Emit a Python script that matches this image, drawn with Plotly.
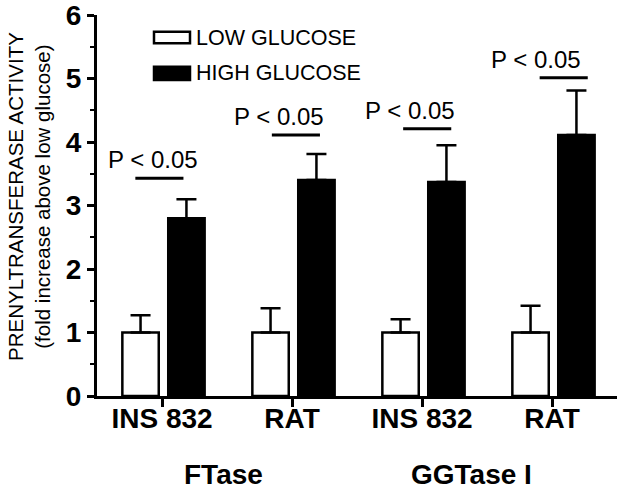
import plotly.graph_objects as go

# ---- data ----
categories = ["INS 832", "RAT", "INS 832", "RAT"]
groups = ["FTase", "GGTase I"]
low_glucose = [1.0, 1.0, 1.0, 1.0]
low_glucose_err = [0.27, 0.38, 0.21, 0.42]
high_glucose = [2.80, 3.40, 3.37, 4.11]
high_glucose_err = [0.30, 0.41, 0.58, 0.70]
sig_label = "P < 0.05"
sig_y = [3.43, 4.11, 4.21, 5.01]
y_ticks = [0, 1, 2, 3, 4, 5, 6]

FONT = "Liberation Sans, Arial, sans-serif"
idx = list(range(len(categories)))

fig = go.Figure()
fig.add_trace(go.Bar(
    x=idx, y=low_glucose, name="LOW GLUCOSE",
    width=0.28, offset=-0.305,
    marker=dict(color="white", line=dict(color="black", width=2.5)),
    error_y=dict(type="data", symmetric=False, array=low_glucose_err,
                 arrayminus=[0] * 4, color="black", thickness=2.5, width=10),
))
fig.add_trace(go.Bar(
    x=idx, y=high_glucose, name="HIGH GLUCOSE",
    width=0.28, offset=0.048,
    marker=dict(color="black", line=dict(color="black", width=2.5)),
    error_y=dict(type="data", symmetric=False, array=high_glucose_err,
                 arrayminus=[0] * 4, color="black", thickness=2.5, width=10),
))

# significance bars and labels
sig_center_shift = [-0.02, 1.03, 2.04, 3.09]
text_shift = [-0.05, -0.13, -0.13, -0.21]
for i, yv in enumerate(sig_y):
    c = sig_center_shift[i]
    fig.add_shape(type="line", xref="x", yref="y", x0=c - 0.185, x1=c + 0.185,
                  y0=yv, y1=yv, line=dict(color="black", width=3))
    fig.add_annotation(x=c + text_shift[i], y=yv + 0.29, xref="x", yref="y",
                       text=sig_label, showarrow=False,
                       font=dict(family=FONT, size=24, color="black"))

# custom legend
def px2paper_x(px):
    return (px - 97) / 520

def px2paper_y(py):
    return (396 - py) / 381

legend_items = [("LOW GLUCOSE", "white", 31.7, 43.3), ("HIGH GLUCOSE", "black", 66.7, 80)]
for name, col, ytop, ybot in legend_items:
    fig.add_shape(type="rect", xref="paper", yref="paper",
                  x0=px2paper_x(154), x1=px2paper_x(190),
                  y0=px2paper_y(ybot), y1=px2paper_y(ytop),
                  fillcolor=col, line=dict(color="black", width=2.5))
    fig.add_annotation(xref="paper", yref="paper", x=px2paper_x(194),
                       y=px2paper_y((ytop + ybot) / 2), xanchor="left", yanchor="middle",
                       text=name, showarrow=False,
                       font=dict(family=FONT, size=21.5, color="black"))

# group labels
group_pos = [0.47, 2.38]
for g, xp in zip(groups, group_pos):
    fig.add_annotation(x=xp, y=px2paper_y(474), xref="x", yref="paper",
                       text="<b>" + g + "</b>", showarrow=False, yanchor="middle",
                       font=dict(family=FONT, size=28, color="black"))

# y axis title
fig.add_annotation(xref="paper", yref="paper", x=px2paper_x(29), y=px2paper_y(197),
                   text="PRENYLTRANSFERASE ACTIVITY<br>(fold increase above low glucose)",
                   textangle=-90, showarrow=False, xanchor="center", yanchor="middle",
                   font=dict(family=FONT, size=20.5, color="black"))

fig.update_layout(
    width=629, height=490,
    margin=dict(l=97, r=12, t=15, b=94, autoexpand=False),
    plot_bgcolor="white", paper_bgcolor="white",
    showlegend=False,
    barmode="group",
    font=dict(family=FONT, color="black"),
)
fig.update_xaxes(
    range=[-0.5, 3.5], tickvals=idx, ticktext=["<b>" + c + "</b>" for c in categories],
    showline=True, linecolor="black", linewidth=3, ticks="outside", ticklen=8,
    tickwidth=3, tickcolor="black", showgrid=False, zeroline=False, automargin=False,
    ticklabeloverflow="allow", ticklabelstandoff=-13,
    tickfont=dict(family=FONT, size=28, color="black"),
)
fig.update_yaxes(
    range=[0, 6], tickvals=y_ticks, ticktext=["<b>%d</b>" % t for t in y_ticks],
    showline=True, linecolor="black", linewidth=3, ticks="outside", ticklen=7,
    tickwidth=3, tickcolor="black", showgrid=False, zeroline=False, automargin=False,
    ticklabeloverflow="allow",
    tickfont=dict(family=FONT, size=28, color="black"),
    minor=dict(dtick=0.5, ticks="outside", ticklen=4, tickwidth=2, tickcolor="black"),
)

fig.write_html("out.html", post_script="document.body.style.margin='0';",
               config={"displayModeBar": False})
